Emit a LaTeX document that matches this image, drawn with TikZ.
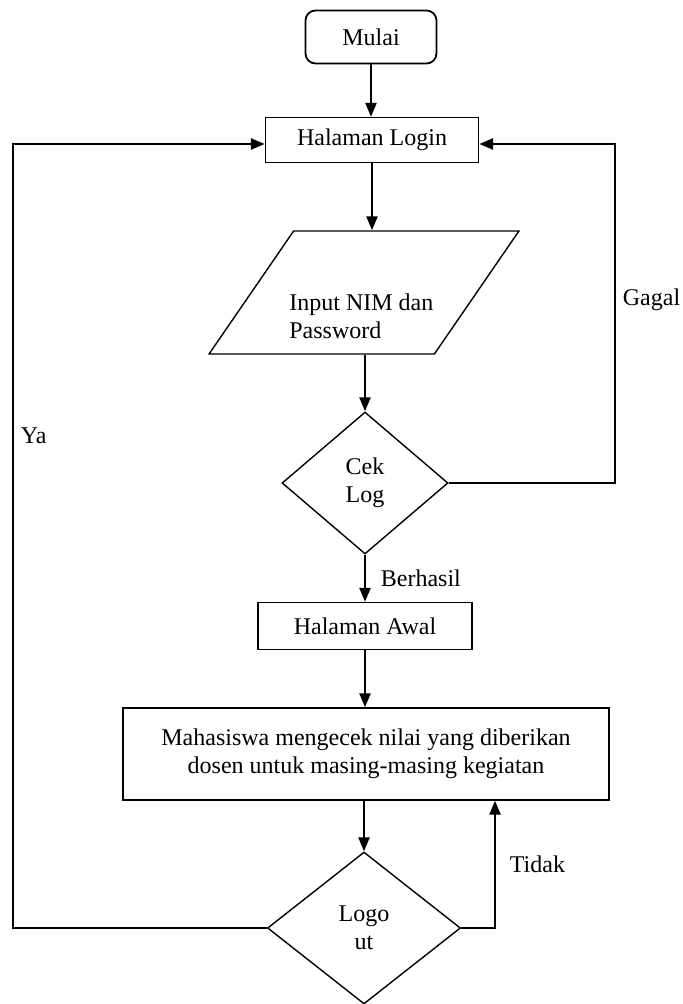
\documentclass[tikz,border=0pt]{standalone}
\usepackage{fontspec}
\setmainfont{Liberation Serif}
\usetikzlibrary{calc,positioning,shapes.geometric,arrows.meta}

\begin{document}
\begin{tikzpicture}[x=0.5pt,y=-0.5pt,
  every node/.style={font=\fontsize{12}{14}\selectfont},
  terminal/.style={draw, line width=0.9pt, rounded corners=5pt, minimum width=65.5pt, minimum height=26.5pt},
  process/.style={draw, line width=0.7pt, align=center},
  io/.style={draw, line width=0.7pt, trapezium, trapezium left angle=59, trapezium right angle=121,
    trapezium stretches=true, minimum width=155pt, minimum height=61.5pt},
  decision/.style={draw, line width=0.7pt, diamond, inner sep=0pt, align=center},
  flow/.style={line width=1.2pt, -{Triangle[length=7pt,width=5.5pt]}}
]
  \useasboundingbox (0,0) rectangle (683,1004);

  \node[terminal] (mulai) at (371,37) {Mulai};
  \node[process, minimum width=106.5pt, minimum height=22.5pt] (login) at (372,140) {Halaman Login};
  \node[io] (input) at (364,292.5) {};
  \node[align=left, anchor=west, inner sep=0pt] (inputtext) at (289,316) {Input NIM dan\\Password};
  \node[decision, minimum width=83pt, minimum height=71pt] (ceklog) at (365,483) {Cek\\Log};
  \node[process, minimum width=107pt, minimum height=23.5pt] (awal) at (365,626) {Halaman Awal};
  \node[process, minimum width=243pt, minimum height=46pt] (cek) at (366,754)
    {Mahasiswa mengecek nilai yang diberikan\\dosen untuk masing-masing kegiatan};
  \node[decision, minimum width=96.5pt, minimum height=76pt] (logout) at (364,928) {Logo\\ut};

  \coordinate (gagalturn) at (615,483);
  \coordinate (tidakturn) at (495,928);
  \coordinate (yaturn) at (13,928);

  \draw[flow] (mulai.south) -- (mulai.south |- login.north);
  \draw[flow] (login.south) -- (login.south |- input.north);
  \draw[flow] (ceklog.north |- input.south) -- (ceklog.north);
  \draw[flow] (ceklog.east) -- (gagalturn) |- node[pos=0.27, right] {Gagal} ([yshift=-2pt]login.east);
  \draw[flow] (ceklog) -- node[right, xshift=4pt] {Berhasil} (awal);
  \draw[flow] (awal.south) -- (awal.south |- cek.north);
  \draw[flow] (cek.south -| logout.north) -- (logout.north);
  \draw[flow] (logout.east) -- (tidakturn) -- node[right, xshift=3.5pt] {Tidak} (tidakturn |- cek.south);
  \draw[flow] (logout.west) -- (yaturn) |- node[pos=0.314, right] {Ya} ([yshift=-2pt]login.west);
\end{tikzpicture}
\end{document}
